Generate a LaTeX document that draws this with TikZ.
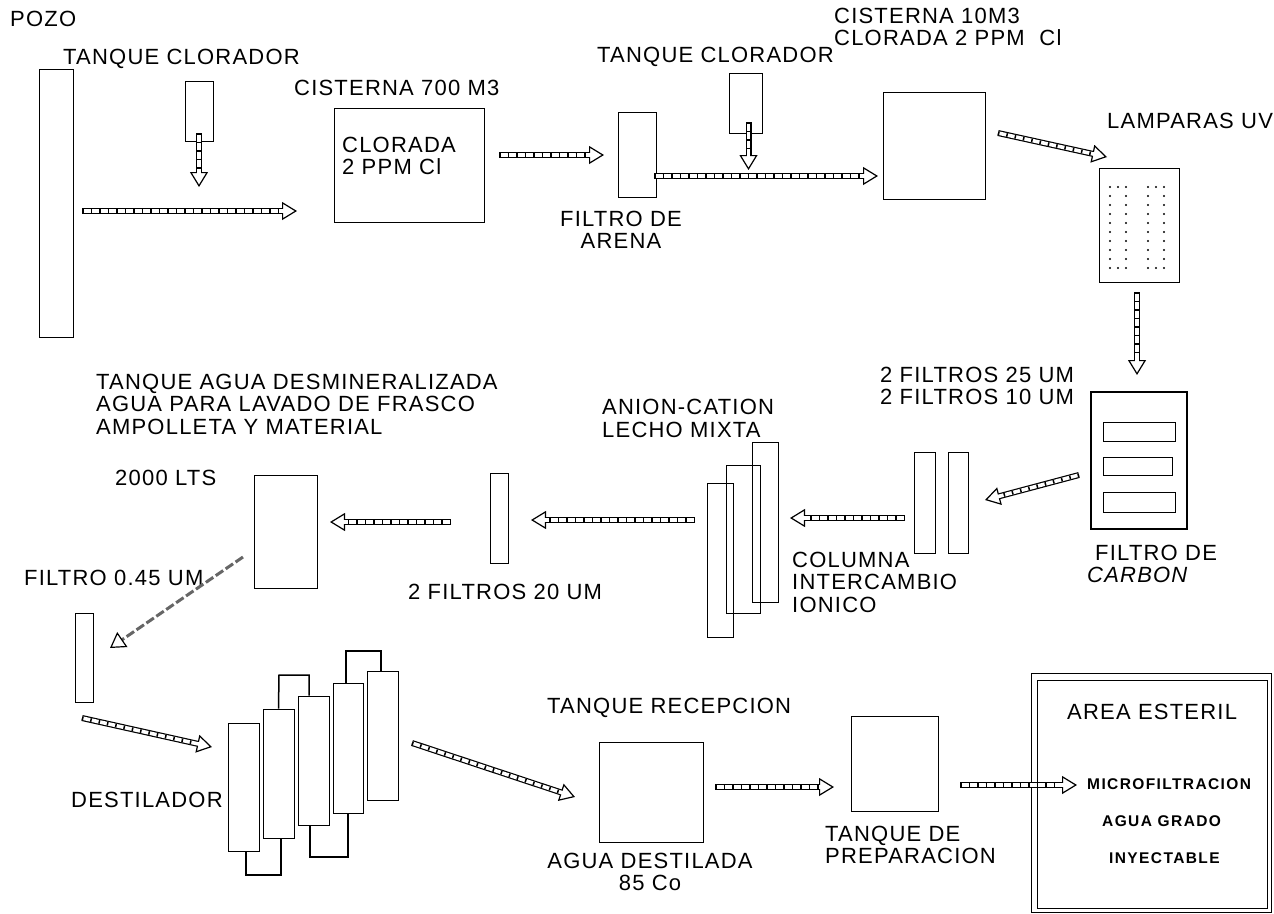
\documentclass[tikz,border=0pt]{standalone}
\usepackage{fontspec}
\setmainfont[LetterSpace=5.5]{Liberation Sans}
\usetikzlibrary{arrows.meta}

\begin{document}
\begin{tikzpicture}[
  x=1pt,y=-1pt,
  every node/.style={font=\fontsize{22}{22.5}\selectfont},
  lab/.style={anchor=west,inner sep=0pt,align=left},
  labc/.style={inner sep=0pt,align=center},
  small/.style={lab,font=\fontsize{15.5}{18}\bfseries\selectfont\addfontfeature{LetterSpace=9}},
  vessel/.style={draw,line width=1pt,inner sep=0pt},
  thickbox/.style={draw,line width=1.9pt,inner sep=0pt},
  loopline/.style={draw,line width=1.5pt},
  flow/.style={-{Triangle[open,length=15pt,width=18pt,line width=1.2pt]},line width=6pt,
    postaction={draw=white,-,line width=3.6pt,shorten >=13pt},
    postaction={draw=black,-,line width=3.6pt,shorten >=15pt,dash pattern=on 1.5pt off 7pt}},
  faintflow/.style={-{Triangle[open,length=15pt,width=18pt,line width=1.2pt,black]},line width=3pt,
    black!60,dash pattern=on 9pt off 3pt}
]
  \useasboundingbox (0,0) rectangle (1274,913);

  % first row
  \node[lab] (pozolab) at (10,19) {POZO};
  \node[vessel,minimum width=34pt,minimum height=268pt] (pozo) at (56,203) {};
  \node[lab] (tanklabA) at (63,59) {TANQUE CLORADOR};
  \node[vessel,minimum width=28pt,minimum height=60pt] (tankA) at (199,111) {};
  \node[lab] (cistlabA) at (294,88) {CISTERNA 700 M3};
  \node[vessel,minimum width=150pt,minimum height=114pt] (cistA) at (409,165) {};
  \node[lab] (cistnote) at (342,156) {CLORADA\\2 PPM Cl};
  \node[vessel,minimum width=38pt,minimum height=85pt] (arena) at (637,155) {};
  \node[labc] (arenalab) at (621,230) {FILTRO DE\\ARENA};
  \node[lab] (tanklabB) at (597,57) {TANQUE CLORADOR};
  \node[vessel,minimum width=33pt,minimum height=60pt] (tankB) at (745.5,103) {};
  \node[lab] (cistlabB) at (834,27) {CISTERNA 10M3\\CLORADA 2 PPM~~Cl};
  \node[vessel,minimum width=102pt,minimum height=107pt] (cistB) at (934,145.5) {};
  \node[lab] (uvlab) at (1107,121) {LAMPARAS UV};
  \node[vessel,minimum width=80pt,minimum height=114pt] (uv) at (1139,225) {};
  \foreach \x in {1110,1126,1148,1164} {
    \foreach \y in {187,196,205,214,223,232,241,250,259,268} {
      \fill (\x,\y) circle (1.2pt);
    }
  }
  \foreach \x in {1118,1156} {
    \foreach \y in {187,268} {\fill (\x,\y) circle (1.2pt);}
  }

  % second row
  \node[lab] (filterlabA) at (880,386) {2 FILTROS 25 UM\\2 FILTROS 10 UM};
  \node[thickbox,minimum width=96pt,minimum height=137pt] (carbon) at (1139,460.5) {};
  \node[vessel,minimum width=72pt,minimum height=19pt] (bedA) at (1139,431.5) {};
  \node[vessel,minimum width=69pt,minimum height=18pt] (bedB) at (1137.5,466) {};
  \node[vessel,minimum width=72pt,minimum height=20pt] (bedC) at (1139,502) {};
  \node[lab] (carbonlab) at (1095,564) {FILTRO DE\\\hspace*{-8pt}\itshape CARBON};
  \node[vessel,minimum width=21pt,minimum height=101pt] (filterA) at (924.5,502.5) {};
  \node[vessel,minimum width=20pt,minimum height=101pt] (filterB) at (958,502.5) {};
  \node[vessel,minimum width=26pt,minimum height=160pt] (colC) at (765,522) {};
  \node[vessel,minimum width=34pt,minimum height=148pt] (colB) at (743,539) {};
  \node[vessel,minimum width=26pt,minimum height=154pt] (colA) at (720,560) {};
  \node[lab] (columnlab) at (792,582) {COLUMNA\\INTERCAMBIO\\IONICO};
  \node[lab] (mixedlab) at (602,418.5) {ANION-CATION\\LECHO MIXTA};
  \node[vessel,minimum width=18pt,minimum height=90pt] (filterC) at (499,518) {};
  \node[lab] (filterlabC) at (408,592) {2 FILTROS 20 UM};
  \node[vessel,minimum width=63pt,minimum height=113pt] (demin) at (285.5,531.5) {};
  \node[lab] (deminlab) at (96,404) {TANQUE AGUA DESMINERALIZADA\\AGUA PARA LAVADO DE FRASCO\\AMPOLLETA Y MATERIAL};
  \node[lab] (volumelab) at (115,478) {2000 LTS};
  \node[lab] (filterlabD) at (24,578) {FILTRO 0.45 UM};
  \node[vessel,minimum width=18pt,minimum height=89pt] (filterD) at (84,657.5) {};

  % third row
  \node[lab] (destlab) at (71,800) {DESTILADOR};
  \node[vessel,minimum width=31pt,minimum height=128pt] (stillA) at (243.5,787) {};
  \node[vessel,minimum width=31pt,minimum height=129pt] (stillB) at (278.5,773.5) {};
  \node[vessel,minimum width=31pt,minimum height=129pt] (stillC) at (313.5,760.5) {};
  \node[vessel,minimum width=30pt,minimum height=130pt] (stillD) at (348,748) {};
  \node[vessel,minimum width=31pt,minimum height=129pt] (stillE) at (382.5,735.5) {};
  \draw[loopline] (stillB.north) -- (279,675) -- (309,675) -- (stillC.north -| 309,0);
  \draw[loopline] (stillD.north -| 346,0) -- (346,651) -- (381,651) -- (stillE.north -| 381,0);
  \draw[loopline] (stillA.south -| 246,0) -- (246,875) -- (281,875) -- (stillB.south -| 281,0);
  \draw[loopline] (stillC.south -| 310,0) -- (310,857) -- (348,857) -- (stillD.south -| 348,0);
  \node[lab] (recvlab) at (547,708) {TANQUE RECEPCION};
  \node[vessel,minimum width=104pt,minimum height=100pt] (recv) at (651,792) {};
  \node[labc] (distlab) at (650,872) {AGUA DESTILADA\\85 Co};
  \node[vessel,minimum width=87pt,minimum height=95pt] (prep) at (894.5,763.5) {};
  \node[lab] (preplab) at (825,845) {TANQUE DE\\PREPARACION};
  \node[vessel,minimum width=240pt,minimum height=239pt] (areaO) at (1151,792.5) {};
  \node[vessel,minimum width=230pt,minimum height=228pt] (areaI) at (1152,794) {};
  \node[lab] (arealab) at (1067,712) {AREA ESTERIL};
  \node[small] (microlab) at (1087,784) {MICROFILTRACION};
  \node[small] (gradelab) at (1102,821) {AGUA GRADO};
  \node[small] (injectlab) at (1109,858) {INYECTABLE};

  % free ends of the flow arrows
  \coordinate (aS) at (82,211);     \coordinate (aE) at (297,211);
  \coordinate (bS) at (199,133);    \coordinate (bE) at (199,187);
  \coordinate (cS) at (499,155);    \coordinate (cE) at (604,155);
  \coordinate (dS) at (654,176);    \coordinate (dE) at (878,176);
  \coordinate (eS) at (748.5,122);  \coordinate (eE) at (748.5,170);
  \coordinate (fS) at (998,133);    \coordinate (fE) at (1107,157);
  \coordinate (gS) at (1137,292);   \coordinate (gE) at (1137,375);
  \coordinate (hS) at (1079,475);   \coordinate (hE) at (985,500);
  \coordinate (iS) at (905,518);    \coordinate (iE) at (790,518);
  \coordinate (jS) at (695,520);    \coordinate (jE) at (531,520);
  \coordinate (kS) at (451,522);    \coordinate (kE) at (330,522);
  \coordinate (lS) at (243,557);    \coordinate (lE) at (110,648);
  \coordinate (mS) at (82,718);     \coordinate (mE) at (212,747);
  \coordinate (nS) at (412,743);    \coordinate (nE) at (575,797);
  \coordinate (oS) at (715,787);    \coordinate (oE) at (834,787);
  \coordinate (pS) at (960,785);    \coordinate (pE) at (1077,785);

  \foreach \f in {a,b,c,d,e,f,g,h,i,j,k,m,n,o,p} {\draw[flow] (\f S) -- (\f E);}
  \draw[faintflow] (lS) -- (lE);
\end{tikzpicture}
\end{document}
